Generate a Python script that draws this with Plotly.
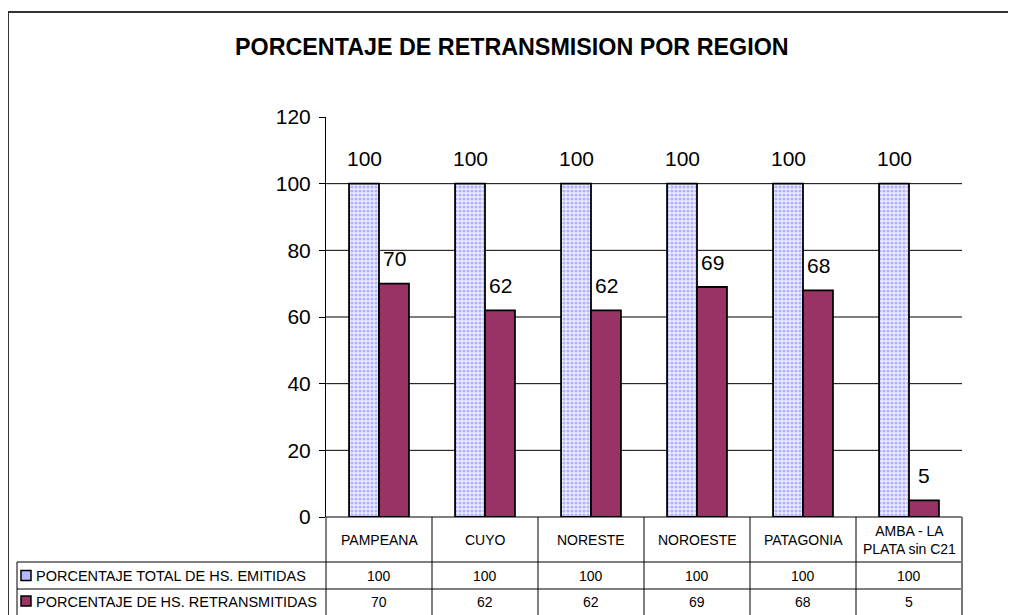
import plotly.graph_objects as go

categories = ["PAMPEANA", "CUYO", "NORESTE", "NOROESTE", "PATAGONIA", "AMBA - LA PLATA sin C21"]
category_labels = ["PAMPEANA", "CUYO", "NORESTE", "NOROESTE", "PATAGONIA", "AMBA - LA<br>PLATA sin C21"]
total_emitidas = [100, 100, 100, 100, 100, 100]
retransmitidas = [70, 62, 62, 69, 68, 5]
series_names = ["PORCENTAJE TOTAL DE HS. EMITIDAS", "PORCENTAJE DE HS. RETRANSMITIDAS"]
y_ticks = [0, 20, 40, 60, 80, 100, 120]
title = "PORCENTAJE DE RETRANSMISION POR REGION"

OFF = 8  # page body margin
W, H = 1016 - OFF, 615 - OFF
# plot area in reference (window) pixel coordinates
RL, RR, RT, RB = 326, 962, 117, 517
L, R, T, B = RL - OFF, RR - OFF, RT - OFF, RB - OFF
FONT = "Arial, Liberation Sans, sans-serif"
BLUE_FG = "#7373ff"
PLUM = "#993366"

def px(x):
    return (x - RL) / (RR - RL)

def py(y):
    return (RB - y) / (RB - RT)

fig = go.Figure()
fig.add_trace(go.Bar(
    x=categories, y=total_emitidas, name=series_names[0],
    marker=dict(color="white", line=dict(color="black", width=1.8),
                pattern=dict(shape=".", fgcolor=BLUE_FG, bgcolor="#eeeeff", size=4, solidity=0.5)),
))
fig.add_trace(go.Bar(
    x=categories, y=retransmitidas, name=series_names[1],
    marker=dict(color=PLUM, line=dict(color="black", width=1.8)),
))

shapes = []
annotations = []
line_c = "black"

# data labels
for vals, xs in zip([total_emitidas, retransmitidas], [-15, 15]):
    for cat, v in zip(categories, vals):
        annotations.append(dict(text=str(v), xref="x", yref="y", x=cat, y=v, xshift=xs, yshift=25,
                                xanchor="center", yanchor="middle", showarrow=False,
                                font=dict(family=FONT, size=21, color="black")))

# gridlines
for v in y_ticks[1:-1]:
    shapes.append(dict(type="line", xref="paper", yref="y", x0=0, x1=1, y0=v, y1=v,
                       line=dict(color="black", width=1), layer="below"))

# outer frame
shapes.append(dict(type="rect", xref="paper", yref="paper", x0=px(8), x1=px(1040), y0=py(12), y1=py(660),
                   line=dict(color="#333333", width=2)))

# table lines
shapes.append(dict(type="line", xref="paper", yref="paper", x0=0, x1=1, y0=0, y1=0,
                   line=dict(color=line_c, width=1)))
for yy in [562, 589]:
    shapes.append(dict(type="line", xref="paper", yref="paper", x0=px(17), x1=1, y0=py(yy), y1=py(yy),
                       line=dict(color=line_c, width=1)))
shapes.append(dict(type="line", xref="paper", yref="paper", x0=px(17), x1=px(17), y0=py(562), y1=py(660),
                   line=dict(color=line_c, width=1)))
n = len(categories)
for k in range(n + 1):
    xx = k / n
    shapes.append(dict(type="line", xref="paper", yref="paper", x0=xx, x1=xx, y0=0, y1=py(660),
                       line=dict(color=line_c if k < n else "#777777", width=1 if k < n else 2)))

# legend keys
shapes.append(dict(type="rect", xref="paper", yref="paper", x0=px(21), x1=px(31), y0=py(570.5), y1=py(580.5),
                   line=dict(color="black", width=1.5), fillcolor="#b8b8ff"))
shapes.append(dict(type="rect", xref="paper", yref="paper", x0=px(21), x1=px(31), y0=py(596), y1=py(606),
                   line=dict(color="black", width=1.5), fillcolor=PLUM))

row_centers = [575.5, 601.5]
for name, yy in zip(series_names, row_centers):
    annotations.append(dict(text=name, xref="paper", yref="paper", x=px(34), y=py(yy), xanchor="left",
                            yanchor="middle", showarrow=False, font=dict(family=FONT, size=14.5, color="black")))

for cat, lab in zip(categories, category_labels):
    annotations.append(dict(text=lab, xref="x", yref="paper", x=cat, y=py(539.5), xanchor="center",
                            yanchor="middle", showarrow=False, font=dict(family=FONT, size=14, color="black")))
for vals, yy in zip([total_emitidas, retransmitidas], row_centers):
    for cat, v in zip(categories, vals):
        annotations.append(dict(text=str(v), xref="x", yref="paper", x=cat, y=py(yy), xanchor="center",
                                yanchor="middle", showarrow=False, font=dict(family=FONT, size=14, color="black")))

annotations.append(dict(text="<b>" + title + "</b>", xref="paper", yref="paper", x=px(512), y=py(47),
                        xanchor="center", yanchor="middle", showarrow=False,
                        font=dict(family=FONT, size=23.3, color="black")))

fig.update_layout(
    width=W, height=H,
    margin=dict(l=L, r=W - R, t=T, b=H - B),
    paper_bgcolor="white", plot_bgcolor="white",
    showlegend=False,
    barmode="group", bargap=0.435, bargroupgap=0,
    xaxis=dict(showticklabels=False, showgrid=False, ticks="", showline=False, zeroline=False),
    yaxis=dict(range=[0, 120], tickvals=y_ticks, showgrid=False, zeroline=False,
               showline=True, linecolor="black", linewidth=1, ticks="outside", ticklen=6,
               tickcolor="black", tickfont=dict(family=FONT, size=21, color="black"), ticklabelstandoff=4),
    shapes=shapes, annotations=annotations,
    font=dict(family=FONT),
)

fig.write_html("out.html")
